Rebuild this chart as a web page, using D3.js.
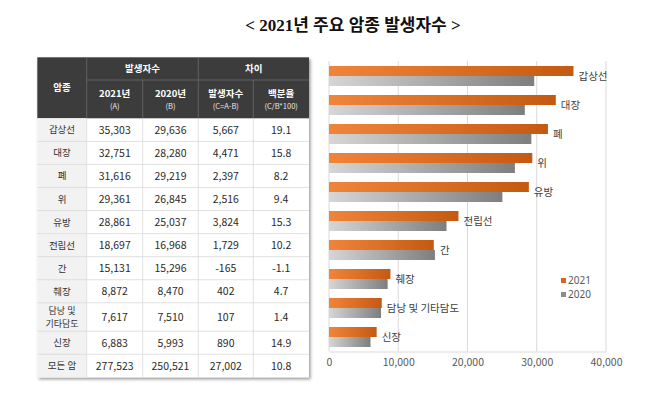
<!DOCTYPE html>
<html><head><meta charset="utf-8">
<script src="https://cdn.jsdelivr.net/npm/d3@7"></script>
<style>
html,body{margin:0;padding:0;background:#fff;}
svg{display:block;}
</style></head>
<body>
<svg id="c" width="658" height="409"></svg>
<script>
// ---- data ----
const categories = ["갑상선","대장","폐","위","유방","전립선","간","췌장","담낭 및 기타담도","신장"];
const values2021 = [35303,32751,31616,29361,28861,18697,15131,8872,7617,6883];
const values2020 = [29636,28280,29219,26845,25037,16968,15296,8470,7510,5993];
const seriesNames = ["2021","2020"];
const xTicks = [0,10000,20000,30000,40000];

const tableNames = ["갑상선","대장","폐","위","유방","전립선","간","췌장","담낭 및\n기타담도","신장","모든 암"];
const tableA = ["35,303","32,751","31,616","29,361","28,861","18,697","15,131","8,872","7,617","6,883","277,523"];
const tableB = ["29,636","28,280","29,219","26,845","25,037","16,968","15,296","8,470","7,510","5,993","250,521"];
const tableC = ["5,667","4,471","2,397","2,516","3,824","1,729","-165","402","107","890","27,002"];
const tablePct = ["19.1","15.8","8.2","9.4","15.3","10.2","-1.1","4.7","1.4","14.9","10.8"];
const headTop = ["암종","발생자수","차이"];
const headSub = [["2021년","(A)"],["2020년","(B)"],["발생자수","(C=A-B)"],["백분율","(C/B*100)"]];

const svg = d3.select("#c");
const font = "'Noto Sans CJK KR','Noto Sans',sans-serif";

// defs
const defs = svg.append("defs");
const f = defs.append("filter").attr("id","sh").attr("x","-5%").attr("y","-5%").attr("width","112%").attr("height","112%");
f.append("feDropShadow").attr("dx",1.5).attr("dy",2).attr("stdDeviation",1.8).attr("flood-color","#000").attr("flood-opacity",0.4);
const g1 = defs.append("linearGradient").attr("id","gOr").attr("x1","0").attr("x2","1").attr("y1","0").attr("y2","0");
g1.append("stop").attr("offset","0").attr("stop-color","#F0843A");
g1.append("stop").attr("offset","1").attr("stop-color","#C45A12");
const g2 = defs.append("linearGradient").attr("id","gGr").attr("x1","0").attr("x2","1").attr("y1","0").attr("y2","0");
g2.append("stop").attr("offset","0").attr("stop-color","#D6D6D6");
g2.append("stop").attr("offset","1").attr("stop-color","#7E7E7E");
const fills = ["url(#gOr)","url(#gGr)"];
const legendCols = ["#D8661E","#8C8C8C"];

// ---- title ----
svg.append("text").attr("x",353).attr("y",31).attr("text-anchor","middle")
  .attr("font-family","'Liberation Serif','Noto Sans CJK KR',serif").attr("font-weight","bold")
  .attr("font-size",17).attr("fill","#111").text("< 2021년 주요 암종 발생자수 >");

// ---- table ----
const tx = 37.3, ty = 57.3;
const colW = [49.4,56,55.6,55,55.7];
const colX = [tx]; colW.forEach((w,i)=>colX.push(colX[i]+w));
const tW = colX[5]-tx;
const hdr1 = 22.7, hdr2 = 38.3;
const rowH = tableNames.map(n => n.includes("\n") ? 28.4 : 23.06);
const rowY = [ty+hdr1+hdr2]; rowH.forEach((h,i)=>rowY.push(rowY[i]+h));
const tH = rowY[rowY.length-1]-ty;

const tg = svg.append("g");
tg.append("rect").attr("x",tx).attr("y",ty).attr("width",tW).attr("height",tH).attr("fill","#fff").attr("filter","url(#sh)");
tg.append("rect").attr("x",tx).attr("y",ty).attr("width",tW).attr("height",hdr1+hdr2).attr("fill","#3C3C3C");
tg.append("rect").attr("x",tx).attr("y",rowY[0]).attr("width",colW[0]).attr("height",rowY[rowY.length-1]-rowY[0]).attr("fill","#F2F2F2");
const hl = "#6a6a6a";
tg.append("line").attr("x1",colX[1]).attr("x2",colX[5]).attr("y1",ty+hdr1).attr("y2",ty+hdr1).attr("stroke",hl).attr("stroke-width",0.8);
[1,3].forEach(i=>tg.append("line").attr("x1",colX[i]).attr("x2",colX[i]).attr("y1",ty).attr("y2",rowY[0]).attr("stroke",hl).attr("stroke-width",0.8));
[2,4].forEach(i=>tg.append("line").attr("x1",colX[i]).attr("x2",colX[i]).attr("y1",ty+hdr1).attr("y2",rowY[0]).attr("stroke",hl).attr("stroke-width",0.8));
tg.append("text").attr("x",(colX[0]+colX[1])/2).attr("y",ty+(hdr1+hdr2)/2+3.5).attr("text-anchor","middle")
  .attr("font-family",font).attr("font-size",9.5).attr("font-weight","bold").attr("fill","#fff").text(headTop[0]);
tg.append("text").attr("x",(colX[1]+colX[3])/2).attr("y",ty+hdr1/2+3.5).attr("text-anchor","middle")
  .attr("font-family",font).attr("font-size",9.5).attr("font-weight","bold").attr("fill","#fff").text(headTop[1]);
tg.append("text").attr("x",(colX[3]+colX[5])/2).attr("y",ty+hdr1/2+3.5).attr("text-anchor","middle")
  .attr("font-family",font).attr("font-size",9.5).attr("font-weight","bold").attr("fill","#fff").text(headTop[2]);
headSub.forEach((s,i)=>{
  const cx = (colX[i+1]+colX[i+2])/2;
  const t = tg.append("text").attr("text-anchor","middle").attr("font-family",font).attr("fill","#fff");
  t.append("tspan").attr("x",cx).attr("y",ty+hdr1+17).attr("font-size",9.5).attr("font-weight","bold").text(s[0]);
  t.append("tspan").attr("x",cx).attr("y",ty+hdr1+29).attr("font-size",7.5).attr("fill","#e8e8e8").text(s[1]);
});
const gl = "#D9D9D9";
rowY.slice(1,-1).forEach(y=>tg.append("line").attr("x1",tx).attr("x2",tx+tW).attr("y1",y).attr("y2",y).attr("stroke",gl).attr("stroke-width",0.8));
colX.slice(1,-1).forEach(x=>tg.append("line").attr("x1",x).attr("x2",x).attr("y1",rowY[0]).attr("y2",rowY[rowY.length-1]).attr("stroke",gl).attr("stroke-width",0.8));
const cols = [tableA,tableB,tableC,tablePct];
tableNames.forEach((n,r)=>{
  const cy = (rowY[r]+rowY[r+1])/2;
  const lines = n.split("\n");
  const multi = lines.length > 1;
  const t = tg.append("text").attr("text-anchor","middle").attr("font-family",font).attr("font-size",multi?9:9.5).attr("fill","#333");
  lines.forEach((ln,k)=>{
    t.append("tspan").attr("x",(colX[0]+colX[1])/2).attr("y",cy+3.5+(k-(lines.length-1)/2)*13.2).text(ln);
  });
  cols.forEach((c,j)=>{
    tg.append("text").attr("x",(colX[j+1]+colX[j+2])/2).attr("y",cy+4).attr("text-anchor","middle")
      .attr("font-family",font).attr("font-size",10.5).attr("fill","#2a2a2a").text(c[r]);
  });
});

// ---- bar chart ----
const x = d3.scaleLinear().domain([0,40000]).range([329,606]);
const y = d3.scaleBand().domain(categories).range([61.5,351.5]).paddingInner(0.31).paddingOuter(0.155);
const ys = d3.scaleBand().domain(seriesNames).range([0,y.bandwidth()]);

const cg = svg.append("g");
cg.selectAll(".grid").data(xTicks).join("line")
  .attr("x1",d=>x(d)).attr("x2",d=>x(d)).attr("y1",61).attr("y2",351.5)
  .attr("stroke","#D9D9D9").attr("stroke-width",1);

const axis = d3.axisBottom(x).tickValues(xTicks).tickSize(0).tickPadding(7).tickFormat(d3.format(","));
const ax = cg.append("g").attr("transform","translate(0,351.5)").call(axis);
ax.select(".domain").attr("stroke","#D9D9D9");
ax.selectAll("text").attr("font-family",font).attr("font-size",10.5).attr("fill","#595959");

const data = categories.map((c,i)=>({c, v:[values2021[i],values2020[i]]}));
const grp = cg.selectAll(".grp").data(data).join("g").attr("transform",d=>`translate(0,${y(d.c)})`);
grp.selectAll("rect").data(d=>d.v.map((v,k)=>({v,k}))).join("rect")
  .attr("x",x(0)).attr("y",d=>ys(seriesNames[d.k])).attr("width",d=>x(d.v)-x(0)).attr("height",ys.bandwidth())
  .attr("fill",d=>fills[d.k]);
grp.append("text").attr("x",d=>x(d3.max(d.v))+5).attr("y",y.bandwidth()/2+4)
  .attr("font-family",font).attr("font-size",10.5).attr("fill","#404040").text(d=>d.c);

// legend
const lg = cg.append("g").attr("transform","translate(561,278)");
seriesNames.forEach((s,i)=>{
  lg.append("rect").attr("x",0).attr("y",i*14).attr("width",5).attr("height",5).attr("fill",legendCols[i]);
  lg.append("text").attr("x",7).attr("y",i*14+6).attr("font-family","'Noto Sans',sans-serif").attr("font-size",10).attr("fill","#595959").text(s);
});
</script>
</body></html>
